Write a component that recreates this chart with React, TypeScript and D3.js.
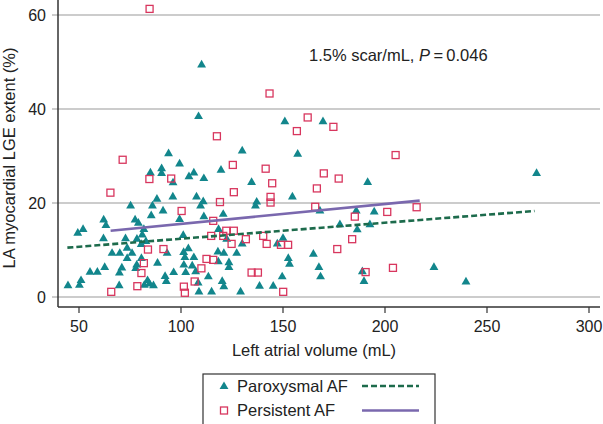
import React from "react";
import * as d3 from "d3";

const W = 603;
const H = 424;

const xTicks = [50, 100, 150, 200, 250, 300];
const yTicks = [0, 20, 40, 60];

// Paroxysmal AF: [LA volume (mL), LGE extent (%)]
const paroxysmal: [number, number][] = [
  [110.1, 49.4], [108.6, 38.4], [93.9, 30.5], [150.9, 37.3], [169.6, 37.3],
  [130, 31.1], [157.2, 30.4], [99.3, 28.3], [85.0, 26.4], [90.5, 27.3],
  [90.5, 26.3], [96.1, 24.3], [119.6, 27.0], [106.3, 26.4], [103.9, 25.6],
  [111.2, 25.2], [134.6, 24.4], [191.5, 24.4], [274.3, 26.3], [96.0, 21.3],
  [88.2, 20.8], [107.6, 21.3], [154.6, 21.3], [110.9, 20.3], [137.1, 20.2],
  [136.5, 19.4], [109.6, 19.4], [75.3, 19.4], [86.0, 19.4], [91.2, 18.3],
  [168.1, 18.3], [185.9, 18.3], [194.7, 18.1], [85.4, 17.3], [120.7, 17.6],
  [111.2, 17.1], [99.3, 16.5], [62.1, 16.4], [63.2, 15.2], [77.5, 16.4],
  [79.1, 15.7], [177.9, 15.4], [192.6, 15.4], [52.0, 14.4], [49.4, 13.6],
  [81.8, 14.4], [81.0, 13.2], [101.1, 13.1], [118.4, 14.4], [186.4, 14.3],
  [62.0, 12.4], [72.8, 12.4], [78.4, 12.3], [82.8, 11.8], [80.5, 11.2],
  [122.4, 12.3], [150.0, 12.5], [130.0, 11.3], [147.2, 11.3], [73.6, 10.4],
  [103.6, 10.3], [66.2, 9.3], [70.0, 9.3], [76.0, 9.3], [93.2, 9.3],
  [101.3, 9.5], [118.1, 9.6], [121.0, 9.3], [127.3, 9.3], [164.9, 9.1],
  [73.6, 8.2], [80.6, 8.2], [101.9, 8.4], [106.3, 8.4], [152.6, 8.2],
  [118.3, 7.5], [123.5, 7.3], [88.5, 7.2], [153.2, 7.0], [78.3, 6.8],
  [101.4, 6.8], [105.5, 6.6], [62.6, 6.3], [71.0, 6.2], [77.8, 6.1],
  [123.5, 6.3], [167.6, 6.3], [224.0, 6.3], [55.4, 5.3], [59.0, 5.3],
  [69.8, 5.1], [96.4, 5.2], [102.3, 5.2], [107.2, 5.4], [188.9, 5.4],
  [92.2, 4.4], [113.4, 4.3], [149.6, 4.3], [168.4, 4.3], [51.0, 3.5],
  [83.6, 3.5], [92.8, 3.3], [108.4, 3.0], [120.2, 3.3], [189.7, 3.3],
  [239.7, 3.2], [84.5, 2.8], [82.0, 2.5], [86.5, 2.4], [44.6, 2.4],
  [50.2, 2.5], [69.7, 2.4], [121.0, 2.2], [138.5, 2.3], [145.2, 2.3],
  [108.8, 1.1], [115.0, 1.1], [129.2, 1.1],
];

// Persistent AF
const persistent: [number, number][] = [
  [84.6, 61.3], [143.4, 43.3], [162.1, 38.2], [156.8, 35.3], [174.7, 36.2],
  [117.6, 34.2], [205.2, 30.2], [71.4, 29.2], [125.4, 28.1], [141.5, 27.3],
  [170.0, 26.3], [177.3, 25.2], [84.5, 25.1], [95.2, 25.2], [144.7, 24.2],
  [166.6, 23.1], [65.4, 22.2], [125.9, 22.3], [143.9, 21.3], [143.9, 20.1],
  [119.1, 20.2], [100.3, 18.3], [165.8, 19.2], [201.1, 18.1], [215.5, 19.1],
  [185.2, 17.1], [115.8, 16.2], [122.2, 14.1], [125.9, 14.1], [114.8, 13.0],
  [120.7, 13.0], [140.3, 13.0], [131.8, 12.3], [183.9, 12.3], [124.8, 11.3],
  [142.0, 11.3], [149.0, 11.1], [152.5, 11.1], [176.6, 10.2], [83.8, 10.1],
  [91.4, 10.2], [112.5, 8.1], [115.8, 7.9], [81.8, 7.2], [110.0, 6.1],
  [203.9, 6.2], [190.5, 5.3], [134.6, 5.2], [137.7, 5.2], [80.6, 5.1],
  [106.7, 3.3], [101.4, 2.2], [78.6, 2.3], [65.8, 1.1], [101.9, 0.9],
  [150.1, 1.1],
];

// Fitted regression lines (endpoints)
const paroxysmalFit: [number, number][] = [[44.3, 10.5], [273.3, 18.3]];
const persistentFit: [number, number][] = [[65.5, 14.1], [217, 20.5]];

const legendLabels = ["Paroxysmal AF", "Persistent AF"];

const TEAL = "#12868c";
const RED = "#d8365e";
const GREEN = "#1d6b4c";
const PURPLE = "#7a68ae";
const FONT = "'Liberation Sans', Arial, Helvetica, sans-serif";

export default function App() {
  const axisX = 58;
  const axisY = 307;
  const x = d3.scaleLinear().domain([50, 300]).range([79, 589]);
  const y = d3.scaleLinear().domain([0, 60]).range([297, 15]);
  const tri = d3.symbol(d3.symbolTriangle, 34)()!;
  const line = d3
    .line<[number, number]>()
    .x((d) => x(d[0]))
    .y((d) => y(d[1]));
  const sq = 7;
  const FS = 16.5;

  return (
    <svg
      width={W}
      height={H}
      style={{ position: "absolute", left: 0, top: 0, background: "#fff" }}
      fontFamily={FONT}
    >
      {/* gridlines */}
      {yTicks.map((t) => (
        <line
          key={"g" + t}
          x1={axisX - 6}
          x2={600}
          y1={y(t)}
          y2={y(t)}
          stroke="#9a9a9a"
          strokeWidth={1.2}
        />
      ))}
      {/* y tick labels */}
      {yTicks.map((t) => (
        <text
          key={"yl" + t}
          x={46}
          y={y(t) + 6}
          textAnchor="end"
          fontSize={16}
          fill="#222"
        >
          {t}
        </text>
      ))}
      {/* axes */}
      <line x1={axisX} x2={axisX} y1={0} y2={axisY} stroke="#333" strokeWidth={1.5} />
      <line x1={axisX} x2={600} y1={axisY} y2={axisY} stroke="#333" strokeWidth={1.5} />
      {xTicks.map((t) => (
        <g key={"xt" + t}>
          <line x1={x(t)} x2={x(t)} y1={axisY} y2={axisY + 6} stroke="#333" strokeWidth={1.2} />
          <text x={x(t)} y={332} textAnchor="middle" fontSize={16} fill="#222">
            {t}
          </text>
        </g>
      ))}
      {/* axis titles */}
      <text x={314} y={356} textAnchor="middle" fontSize={FS} fill="#222">
        Left atrial volume (mL)
      </text>
      <text
        transform={`translate(15,158) rotate(-90)`}
        textAnchor="middle"
        fontSize={FS}
        fill="#222"
      >
        LA myocardial LGE extent (%)
      </text>
      {/* annotation */}
      <text x={309} y={61} fontSize={FS} fill="#222">
        1.5% scar/mL,{" "}
        <tspan fontStyle="italic">P</tspan>
        {"\u2009=\u20090.046"}
      </text>
      {/* points */}
      {paroxysmal.map((d, i) => (
        <path
          key={"p" + i}
          d={tri}
          transform={`translate(${x(d[0])},${y(d[1])})`}
          fill={TEAL}
        />
      ))}
      {persistent.map((d, i) => (
        <rect
          key={"s" + i}
          x={x(d[0]) - sq / 2}
          y={y(d[1]) - sq / 2}
          width={sq}
          height={sq}
          fill="none"
          stroke={RED}
          strokeWidth={1.3}
        />
      ))}
      {/* fit lines */}
      <path d={line(paroxysmalFit)!} stroke={GREEN} strokeWidth={2.6} strokeDasharray="6,3" fill="none" />
      <path d={line(persistentFit)!} stroke={PURPLE} strokeWidth={2.6} fill="none" />
      {/* legend */}
      <rect x={203} y={374} width={232} height={60} fill="#fff" stroke="#333" strokeWidth={1.2} />
      <path d={tri} transform="translate(224,386.5)" fill={TEAL} />
      <text x={237} y={392} fontSize={FS} fill="#222">
        {legendLabels[0]}
      </text>
      <line x1={362} x2={419} y1={386} y2={386} stroke={GREEN} strokeWidth={2.6} strokeDasharray="6,3" />
      <rect x={224 - sq / 2} y={410.5 - sq / 2} width={sq} height={sq} fill="none" stroke={RED} strokeWidth={1.3} />
      <text x={237} y={416} fontSize={FS} fill="#222">
        {legendLabels[1]}
      </text>
      <line x1={362} x2={419} y1={410.5} y2={410.5} stroke={PURPLE} strokeWidth={2.6} />
    </svg>
  );
}
